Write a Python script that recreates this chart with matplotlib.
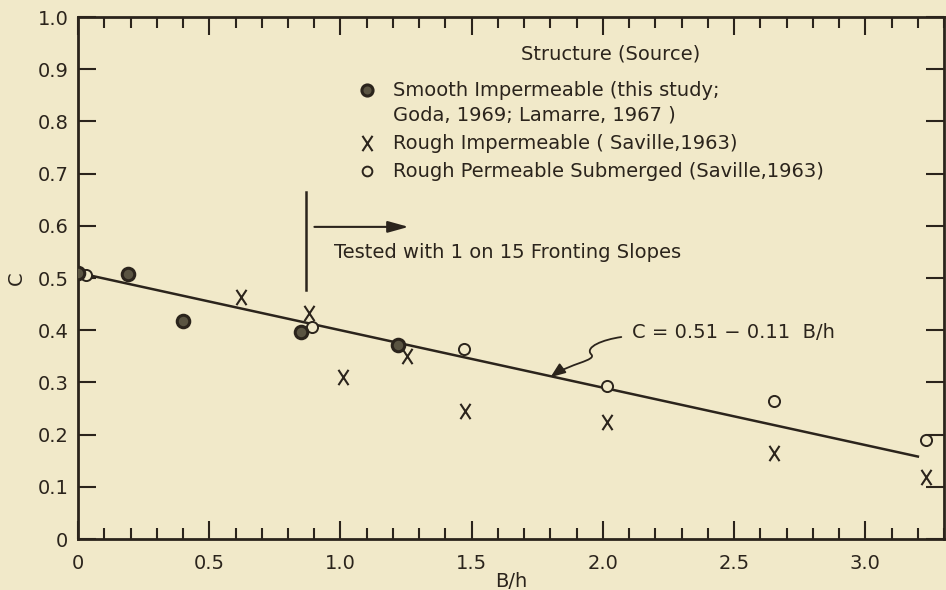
import numpy as np
import matplotlib
matplotlib.use('Agg')
import matplotlib.pyplot as plt
from matplotlib.path import Path
from matplotlib.patches import FancyArrowPatch
from matplotlib.ticker import MultipleLocator

# data
smooth_x = [0.0, 0.19, 0.40, 0.85, 1.22]
smooth_y = [0.51, 0.508, 0.418, 0.397, 0.372]
rough_x = [0.62, 0.88, 1.01, 1.255, 1.475, 2.015, 2.65, 3.23]
rough_y = [0.464, 0.433, 0.31, 0.35, 0.245, 0.224, 0.165, 0.119]
perm_x = [0.03, 0.89, 1.47, 2.015, 2.65, 3.23]
perm_y = [0.505, 0.406, 0.364, 0.293, 0.264, 0.19]
fit_a, fit_b = 0.51, -0.11
fit_range = [0.0, 3.2]
xticks = [0, 0.5, 1.0, 1.5, 2.0, 2.5, 3.0]
xticklabels = ['0', '0.5', '1.0', '1.5', '2.0', '2.5', '3.0']
yticks = [0, 0.1, 0.2, 0.3, 0.4, 0.5, 0.6, 0.7, 0.8, 0.9, 1.0]
yticklabels = ['0', '0.1', '0.2', '0.3', '0.4', '0.5', '0.6', '0.7', '0.8', '0.9', '1.0']

ink = '#2b241c'
bg = '#f1e9c9'
plt.rcParams['font.family'] = ['DejaVu Sans']
plt.rcParams['font.size'] = 14
plt.rcParams['text.color'] = ink
plt.rcParams['axes.labelcolor'] = ink

fig = plt.figure(figsize=(9.46, 5.9), dpi=100, facecolor=bg)
ax = fig.add_axes([0.0825, 0.0864, 0.9155, 0.8847], facecolor=bg)

# narrow letter-like X marker
xmark = Path([(-0.33, -0.5), (0.33, 0.5), (0.33, -0.5), (-0.33, 0.5)],
             [Path.MOVETO, Path.LINETO, Path.MOVETO, Path.LINETO])

xf = np.array(fit_range)
ax.plot(xf, fit_a + fit_b * xf, color=ink, lw=1.8, zorder=2)

ax.plot(perm_x, perm_y, ls='none', marker='o', ms=8, mfc=bg, mec=ink, mew=1.4, zorder=3)
ax.plot(rough_x, rough_y, ls='none', marker=xmark, ms=11, color=ink, mew=1.5, zorder=3)
ax.plot(smooth_x, smooth_y, ls='none', marker='o', ms=9, mfc='#5a5442', mec=ink, mew=2.2, zorder=4)

ax.set_xlim(0, 3.3)
ax.set_ylim(0, 1.0)
ax.set_xticks(xticks)
ax.set_xticklabels(xticklabels)
ax.set_yticks(yticks)
ax.set_yticklabels(yticklabels)
ax.xaxis.set_minor_locator(MultipleLocator(0.1))
ax.tick_params(which='both', direction='in', top=True, right=True, color=ink,
               labelcolor=ink, width=1.5)
ax.tick_params(axis='x', which='major', length=13, pad=11)
ax.tick_params(axis='x', which='minor', length=8)
ax.tick_params(axis='y', which='major', length=13, pad=7)
for s in ax.spines.values():
    s.set_color(ink)
    s.set_linewidth(2)

ax.set_xlabel('B/h', labelpad=-1)
ax.set_ylabel('C', labelpad=8)

# legend drawn by hand
ax.text(0.615, 0.929, 'Structure (Source)', transform=ax.transAxes, ha='center', va='center')
leg_mx, leg_tx = 0.334, 0.364
ax.plot([leg_mx], [0.86], transform=ax.transAxes, marker='o', ms=8, mfc='#5a5442', mec=ink, mew=2.2)
ax.text(leg_tx, 0.86, 'Smooth Impermeable (this study;', transform=ax.transAxes, va='center')
ax.text(leg_tx, 0.812, 'Goda, 1969; Lamarre, 1967 )', transform=ax.transAxes, va='center')
ax.plot([leg_mx], [0.758], transform=ax.transAxes, marker=xmark, ms=11, color=ink, mew=1.5)
ax.text(leg_tx, 0.758, 'Rough Impermeable ( Saville,1963)', transform=ax.transAxes, va='center')
ax.plot([leg_mx], [0.705], transform=ax.transAxes, marker='o', ms=7, mfc=bg, mec=ink, mew=1.4)
ax.text(leg_tx, 0.705, 'Rough Permeable Submerged (Saville,1963)', transform=ax.transAxes, va='center')

# tested-with marker line and arrow
ax.plot([0.87, 0.87], [0.477, 0.665], color=ink, lw=1.8)
ax.annotate('', xy=(1.27, 0.598), xytext=(0.89, 0.598),
            arrowprops=dict(arrowstyle='-|>,head_length=0.9,head_width=0.25', color=ink, lw=1.5))
ax.text(0.975, 0.548, 'Tested with 1 on 15 Fronting Slopes', va='center')

# fit annotation with squiggle arrow
ax.text(2.11, 0.395, 'C = 0.51 \u2212 0.11  B/h', va='center')
squig = Path([(2.07, 0.387), (2.0, 0.382), (1.93, 0.368), (1.955, 0.354),
              (1.98, 0.342), (1.87, 0.336), (1.80, 0.31)],
             [Path.MOVETO, Path.CURVE4, Path.CURVE4, Path.CURVE4,
              Path.CURVE4, Path.CURVE4, Path.CURVE4])
ax.add_patch(FancyArrowPatch(path=squig, arrowstyle='-|>,head_length=9,head_width=3.5',
                             color=ink, lw=1.3, mutation_scale=1))

fig.savefig('out.png', dpi=100, facecolor=bg)
